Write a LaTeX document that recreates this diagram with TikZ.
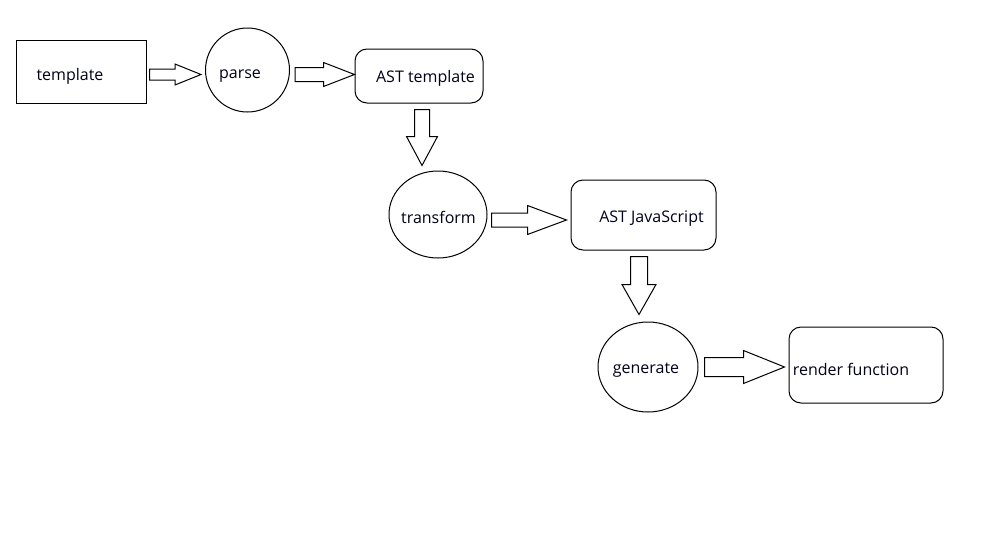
\documentclass[tikz,border=0pt]{standalone}
\usepackage{fontspec}
\setmainfont{Open Sans}
\usetikzlibrary{calc,shapes.geometric}

\tikzset{
  box/.style={draw, line width=1pt, rectangle, inner sep=0pt},
  roundbox/.style={box, rounded corners=12pt},
  oval/.style={draw, line width=1pt, ellipse, inner sep=0pt},
  caption/.style={font=\fontsize{16}{19}\selectfont, text=black!90!blue, inner sep=0pt},
  blockarrow/.style={draw, line width=1pt, fill=white, line join=miter}
}

% horizontal block arrow: start, end, shaft half-width, head half-width, head length
\newcommand\harrow[5]{%
  \draw[blockarrow] let \p1=#1, \p2=#2 in
    (\x1,\y2+#3) -- (\x2-#5,\y2+#3) -- (\x2-#5,\y2+#4) -- (\x2,\y2)
    -- (\x2-#5,\y2-#4) -- (\x2-#5,\y2-#3) -- (\x1,\y2-#3) -- cycle;}
% vertical (downward) block arrow
\newcommand\varrow[5]{%
  \draw[blockarrow] let \p1=#1, \p2=#2 in
    (\x2-#3,\y1) -- (\x2-#3,\y2+#5) -- (\x2-#4,\y2+#5) -- (\x2,\y2)
    -- (\x2+#4,\y2+#5) -- (\x2+#3,\y2+#5) -- (\x2+#3,\y1) -- cycle;}

\begin{document}
\begin{tikzpicture}[x=1pt, y=-1pt]
\useasboundingbox[fill=white] (0,0) rectangle (991,557);

% shapes
\node[box, minimum width=130pt, minimum height=63pt] (tpl) at (81,72.3) {};
\node[oval, minimum width=84pt, minimum height=84pt] (parse) at (247.5,70) {};
\node[roundbox, minimum width=128pt, minimum height=54pt] (astt) at (419,76) {};
\node[oval, minimum width=98pt, minimum height=87pt] (trans) at (438,214.5) {};
\node[roundbox, minimum width=145pt, minimum height=70pt] (astjs) at (643.5,215) {};
\node[oval, minimum width=100pt, minimum height=90pt] (gen) at (648,367) {};
\node[roundbox, minimum width=154pt, minimum height=76pt] (render) at (866,365) {};

% labels
\node[caption] (tpl-t) at (70,76) {template};
\node[caption] (parse-t) at (240,76) {parse};
\node[caption] (astt-t) at (425.5,78) {AST template};
\node[caption] (trans-t) at (438.5,217) {transform};
\node[caption] (astjs-t) at (651.5,219) {AST JavaScript};
\node[caption] (gen-t) at (646,370) {generate};
\node[caption] (render-t) at (851,369) {render function};

% connector end points
\coordinate (a1s) at ($(tpl.east)+(3,0)$);
\coordinate (a1e) at ($(parse.west)+(-4,4.5)$);
\coordinate (a2s) at ($(parse.east)+(5,0)$);
\coordinate (a2e) at ($(astt.west)+(0,-1.5)$);
\coordinate (a3s) at ($(astt.south)+(0,6)$);
\coordinate (a3e) at ($(trans.north)+(-16,-5)$);
\coordinate (a4s) at ($(trans.east)+(4,0)$);
\coordinate (a4e) at ($(astjs.west)+(-4,5)$);
\coordinate (a5s) at ($(astjs.south)+(0,6)$);
\coordinate (a5e) at ($(gen.north)+(-9,-7)$);
\coordinate (a6s) at ($(gen.east)+(6,0)$);
\coordinate (a6e) at ($(render.west)+(-4,2)$);

% block arrows
\harrow{(a1s)}{(a1e)}{5.5pt}{10.5pt}{26pt}
\harrow{(a2s)}{(a2e)}{7pt}{12pt}{31pt}
\varrow{(a3s)}{(a3e)}{7.5pt}{15.5pt}{29pt}
\harrow{(a4s)}{(a4e)}{7pt}{14.5pt}{39pt}
\varrow{(a5s)}{(a5e)}{8.5pt}{17pt}{30pt}
\harrow{(a6s)}{(a6e)}{9.5pt}{16.5pt}{41pt}
\end{tikzpicture}
\end{document}
